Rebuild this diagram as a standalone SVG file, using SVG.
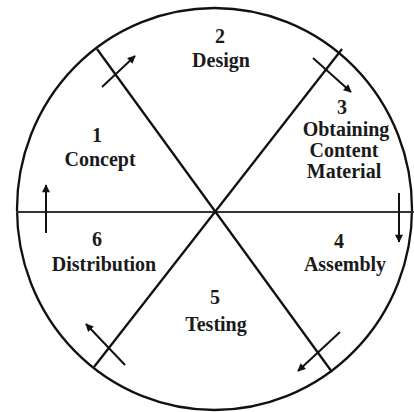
<svg xmlns="http://www.w3.org/2000/svg" width="414" height="412" viewBox="0 0 414 412">
<defs>
<marker id="ah" viewBox="0 0 10 10" refX="9" refY="5" markerWidth="9" markerHeight="8" markerUnits="userSpaceOnUse" orient="auto">
<path d="M0,0 L10,5 L0,10 Z" fill="#111"/>
</marker>
<style>
.ln{stroke:#111;stroke-width:2.3;fill:none}
.hz{stroke:#333;stroke-width:2;fill:none}
.ar{stroke:#111;stroke-width:2;fill:none;marker-end:url(#ah)}
text{font-family:"Liberation Serif","Times New Roman",serif;font-weight:bold;font-size:20px;fill:#1a1a1a;text-anchor:middle}
</style>
</defs>
<rect width="414" height="412" fill="#fff"/>
<g id="connectors">
<ellipse class="ln" cx="214.5" cy="209" rx="197.5" ry="201"/>
<line class="hz" x1="16" y1="212" x2="414" y2="212"/>
<line class="ln" x1="97" y1="49" x2="332" y2="372"/>
<line class="ln" x1="342" y1="49" x2="94" y2="367"/>
<line class="ar" x1="102" y1="87" x2="135" y2="56"/>
<line class="ar" x1="313" y1="58" x2="351" y2="92"/>
<line class="ar" x1="399" y1="193" x2="399" y2="242"/>
<line class="ar" x1="46" y1="233" x2="46" y2="185"/>
<line class="ar" x1="340" y1="332" x2="298" y2="371"/>
<line class="ar" x1="125" y1="365" x2="86" y2="324"/>
</g>
<g id="node1"><text x="97" y="142">1</text><text x="100" y="166">Concept</text></g>
<g id="node2"><text x="220" y="43">2</text><text x="221" y="67">Design</text></g>
<g id="node3"><text x="342" y="114">3</text><text x="346" y="136">Obtaining</text><text x="344" y="157">Content</text><text x="344" y="178">Material</text></g>
<g id="node4"><text x="339" y="248">4</text><text x="345" y="271">Assembly</text></g>
<g id="node5"><text x="215" y="304">5</text><text x="216" y="331">Testing</text></g>
<g id="node6"><text x="97" y="246">6</text><text x="104" y="271">Distribution</text></g>
</svg>
